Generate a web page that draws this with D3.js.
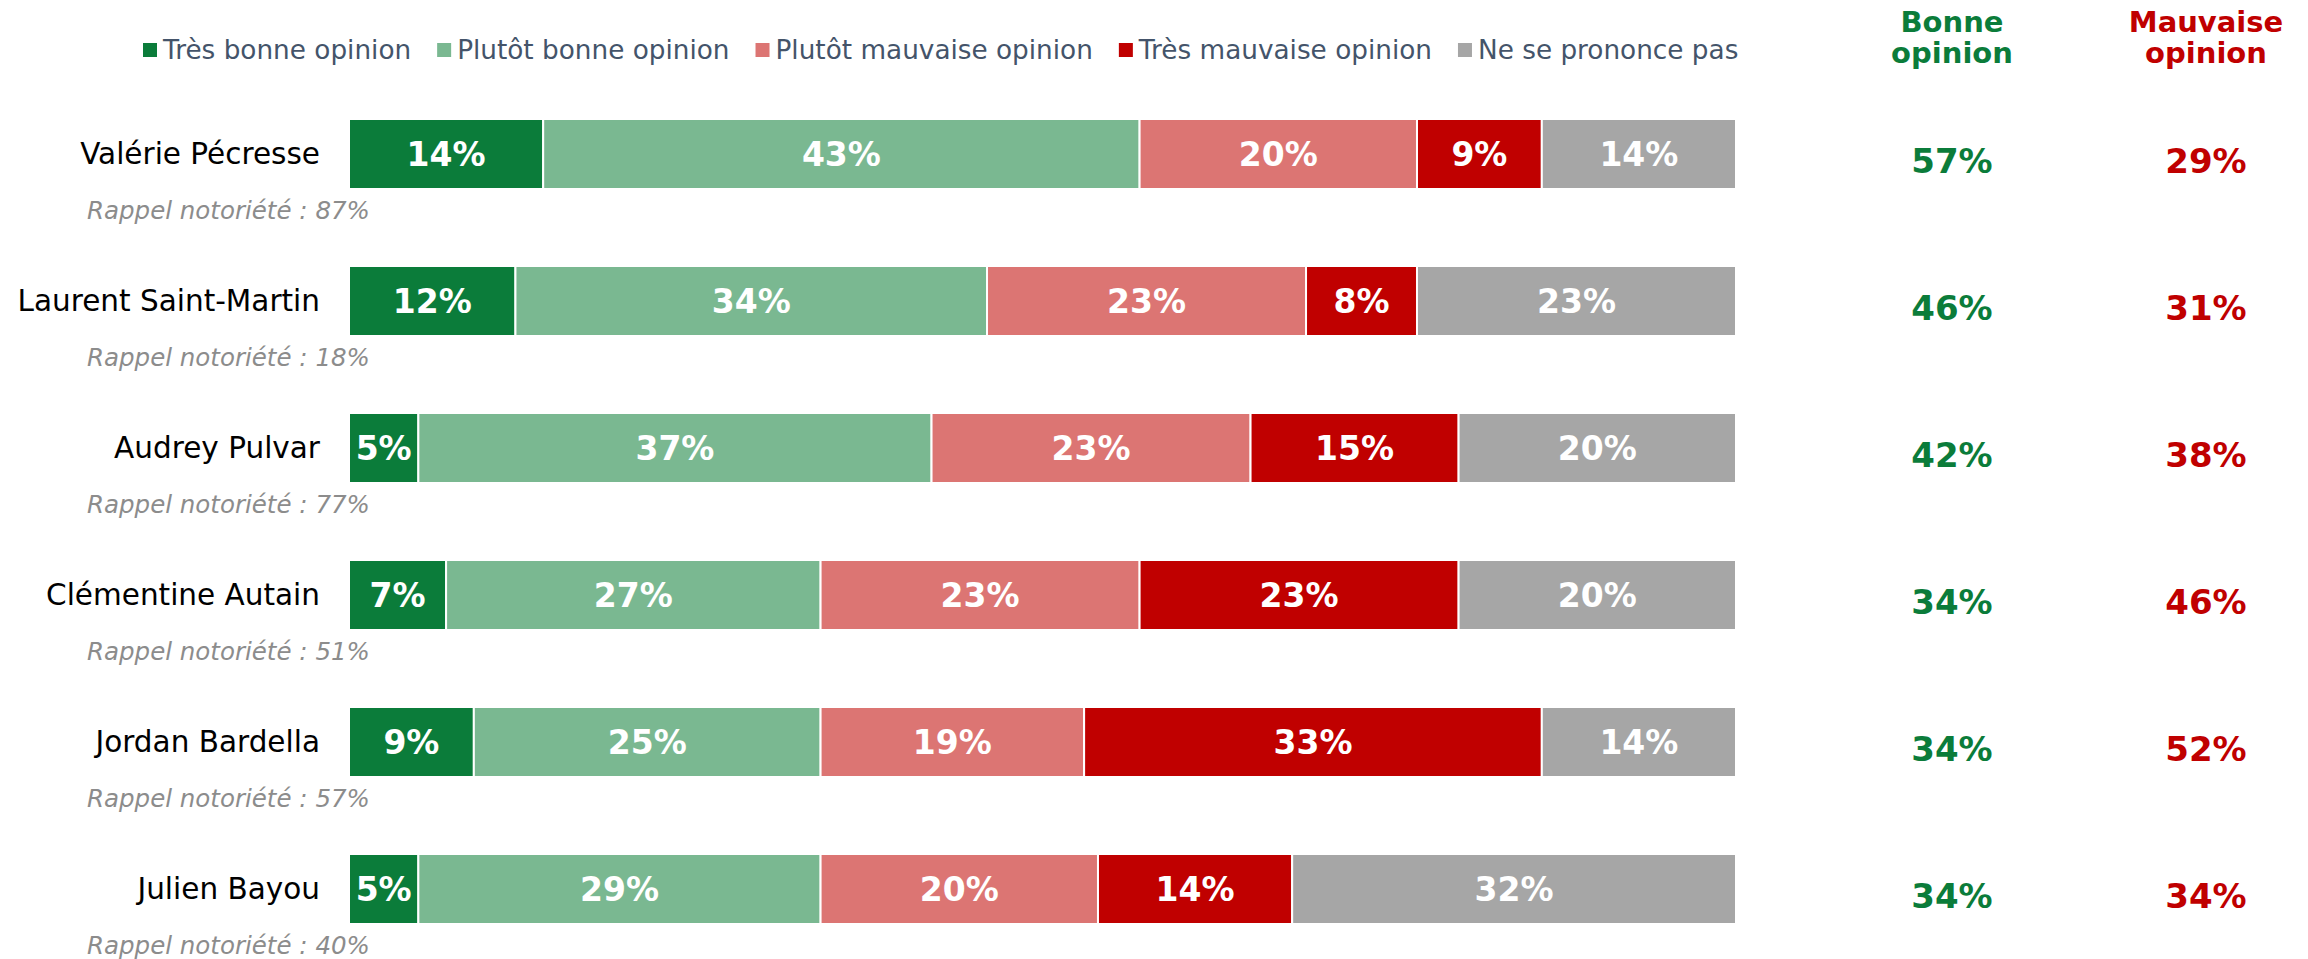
<!DOCTYPE html>
<html lang="fr">
<head>
<meta charset="UTF-8">
<title>Opinion sur les candidats</title>
<script src="https://cdnjs.cloudflare.com/ajax/libs/d3/7.8.5/d3.min.js"></script>
<style>
  body { margin: 0; background: #fff; font-family: "DejaVu Sans", Verdana, sans-serif; }
  svg { display: block; }
</style>
</head>
<body>
<div id="chart"></div>
<script>
// données
const candidats = ["Valérie Pécresse", "Laurent Saint-Martin", "Audrey Pulvar",
                   "Clémentine Autain", "Jordan Bardella", "Julien Bayou"];
const categories = ["Très bonne opinion", "Plutôt bonne opinion", "Plutôt mauvaise opinion",
                    "Très mauvaise opinion", "Ne se prononce pas"];
const tresBonne     = [14, 12, 5, 7, 9, 5];
const plutotBonne   = [43, 34, 37, 27, 25, 29];
const plutotMauvaise= [20, 23, 23, 23, 19, 20];
const tresMauvaise  = [9, 8, 15, 23, 33, 14];
const nsp           = [14, 23, 20, 20, 14, 32];
const bonneOpinion   = [57, 46, 42, 34, 34, 34];
const mauvaiseOpinion= [29, 31, 38, 46, 52, 34];
const notoriete      = [87, 18, 77, 51, 57, 40];

const colors = ["#0b7c3a", "#7ab891", "#dc7573", "#c00000", "#a6a6a6"];

const width = 2308, height = 959;

const svg = d3.select("#chart").append("svg")
  .attr("width", width).attr("height", height);

const series = [tresBonne, plutotBonne, plutotMauvaise, tresMauvaise, nsp];
const rows = candidats.map((name, i) => {
  const obj = { name, i };
  categories.forEach((c, k) => obj[c] = series[k][i]);
  return obj;
});
const stacked = d3.stack().keys(categories)(rows);

const x = d3.scaleLinear().domain([0, 100]).range([349, 1736]);
const y = d3.scaleBand().domain(candidats)
  .range([119, 119 + 5 * 147 + 70])
  .paddingInner(77 / 147).paddingOuter(0);
const color = d3.scaleOrdinal().domain(categories).range(colors);

// segments
const layer = svg.append("g").selectAll("g")
  .data(stacked).join("g")
  .attr("fill", d => color(d.key));

layer.selectAll("rect")
  .data(d => d)
  .join("rect")
  .attr("x", d => x(d[0]))
  .attr("y", d => y(d.data.name))
  .attr("width", d => x(d[1]) - x(d[0]))
  .attr("height", y.bandwidth())
  .attr("stroke", "#fff")
  .attr("stroke-width", 2);

layer.selectAll("text")
  .data(d => d)
  .join("text")
  .attr("x", d => (x(d[0]) + x(d[1])) / 2)
  .attr("y", d => y(d.data.name) + y.bandwidth() / 2 + 12)
  .attr("text-anchor", "middle")
  .attr("fill", "#fff")
  .attr("font-weight", "bold")
  .attr("font-size", 33)
  .text(d => (d[1] - d[0]) + "%");

// noms
svg.append("g").selectAll("text")
  .data(candidats).join("text")
  .attr("x", 320)
  .attr("y", d => y(d) + y.bandwidth() / 2 + 10)
  .attr("text-anchor", "end")
  .attr("font-size", 29.5)
  .attr("fill", "#000")
  .text(d => d);

// rappel notoriété
svg.append("g").selectAll("text")
  .data(candidats).join("text")
  .attr("x", 87)
  .attr("y", d => y(d) + y.bandwidth() + 30)
  .attr("font-size", 24.5)
  .attr("font-style", "italic")
  .attr("fill", "#8c8c8c")
  .text((d, i) => "Rappel notoriété : " + notoriete[i] + "%");

// colonnes de droite
const cols = [
  { lines: ["Bonne", "opinion"], vals: bonneOpinion, cx: 1952, fill: "#0b7c3a" },
  { lines: ["Mauvaise", "opinion"], vals: mauvaiseOpinion, cx: 2206, fill: "#c00000" }
];
cols.forEach(c => {
  const g = svg.append("g").attr("fill", c.fill).attr("font-weight", "bold").attr("text-anchor", "middle");
  g.selectAll("text.h").data(c.lines).join("text").attr("class", "h")
    .attr("x", c.cx).attr("y", (d, i) => 32 + i * 31)
    .attr("font-size", 29)
    .text(d => d);
  g.selectAll("text.v").data(candidats).join("text").attr("class", "v")
    .attr("x", c.cx)
    .attr("y", (d, i) => y(d) + y.bandwidth() / 2 + 19)
    .attr("font-size", 34)
    .text((d, i) => c.vals[i] + "%");
});

// légende
const legend = svg.append("g").attr("transform", "translate(143,50)");
let lx = 0;
categories.forEach(c => {
  const item = legend.append("g").attr("transform", `translate(${lx},0)`);
  item.append("rect").attr("x", 0).attr("y", -7).attr("width", 14).attr("height", 14)
    .attr("fill", color(c));
  const t = item.append("text").attr("x", 20).attr("y", 9)
    .attr("font-size", 26.3).attr("fill", "#44546a").text(c);
  lx += 20 + t.node().getComputedTextLength() + 26;
});
</script>
</body>
</html>
